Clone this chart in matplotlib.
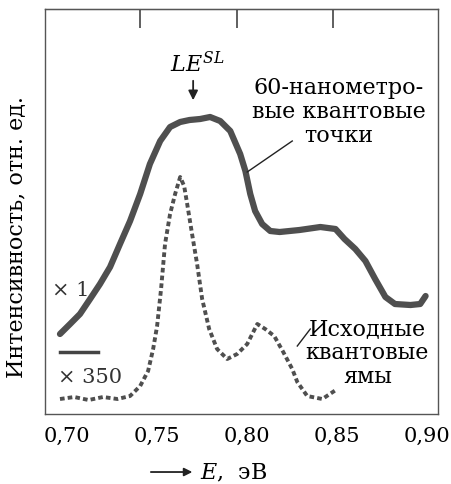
import matplotlib
matplotlib.use("Agg")
import matplotlib.pyplot as plt

plt.rcParams['font.family'] = ['DejaVu Serif']
plt.rcParams['mathtext.fontset'] = 'dejavuserif'

# 60-nm quantum dots (x1), energy in eV, intensity in arb. units
qd_E = [0.6961, 0.7017, 0.7072, 0.7128, 0.7183, 0.7239, 0.7294, 0.7350, 0.7406,
        0.7460, 0.7517, 0.7572, 0.7628, 0.7680, 0.7739, 0.7794, 0.7850, 0.7906,
        0.7961, 0.7990, 0.8017, 0.8044, 0.8083, 0.8128, 0.8180, 0.8290, 0.8406,
        0.8490, 0.8540, 0.8600, 0.8656, 0.8710, 0.8767, 0.8820, 0.8906, 0.8960,
        0.8990]
qd_I = [80, 90, 100, 115, 130, 147, 170, 193, 220,
        250, 273, 287, 292, 294, 295, 297, 293, 283,
        260, 243, 220, 203, 190, 183, 182, 184, 187,
        185, 175, 165, 153, 135, 117, 110, 109, 110,
        118]

# initial quantum wells (x350)
qw_E = [0.6961, 0.7040, 0.7120, 0.7200, 0.7280, 0.7350, 0.7406, 0.7450, 0.7478,
        0.7500, 0.7522, 0.7544, 0.7572, 0.7600, 0.7628, 0.7650, 0.7667, 0.7694,
        0.7722, 0.7750, 0.7789, 0.7833, 0.7889, 0.7944, 0.8000, 0.8056, 0.8100,
        0.8150, 0.8200, 0.8250, 0.8278, 0.8333, 0.8417, 0.8500]
qw_I = [15, 17, 14, 17, 15, 18, 28, 43, 65,
        88, 125, 170, 200, 220, 237, 228, 210, 180,
        150, 115, 85, 65, 55, 60, 70, 90, 85,
        78, 62, 45, 32, 18, 15, 25]

xticks = [0.70, 0.75, 0.80, 0.85, 0.90]
xticklabels = ['0,70', '0,75', '0,80', '0,85', '0,90']
top_ticks = [0.7406, 0.7944, 0.8478]

fig = plt.figure(figsize=(4.52, 4.85), dpi=100)
ax = fig.add_axes([0.0996, 0.1443, 0.8699, 0.8351])

ax.plot(qd_E, qd_I, color='#3c3c3c', lw=4.5, solid_capstyle='round', alpha=0.9)
ax.plot(qw_E, qw_I, color='#3c3c3c', lw=2.8, ls=(0, (1.2, 0.8)), alpha=0.9)

ax.set_xlim(0.6878, 0.906)
ax.set_ylim(0, 405)
ax.set_xticks(xticks)
ax.set_xticklabels(xticklabels, fontsize=15)
ax.tick_params(axis='x', bottom=False, pad=5)
ax.set_yticks([])
for s in ax.spines.values():
    s.set_color('#555555')
    s.set_linewidth(1.0)

sec = ax.secondary_xaxis('top')
sec.set_xticks(top_ticks)
sec.set_xticklabels([])
sec.tick_params(direction='in', length=14, width=1.2, color='#444444')

ax.text(0.7722, 350, r'$LE^{SL}$', fontsize=16, ha='center', va='center')
ax.annotate('', xy=(0.7700, 311), xytext=(0.7700, 336),
            arrowprops=dict(arrowstyle='-|>', color='#222222', lw=1.3, mutation_scale=14))

ax.text(0.8506, 303, '60-нанометро-\nвые квантовые\nточки', fontsize=16,
        ha='center', va='center', linespacing=1.1)
ax.plot([0.8250, 0.8000], [273, 242], color='#222222', lw=1)

ax.text(0.6917, 125, '× 1', fontsize=15, ha='left', va='center', color='#333333')
ax.plot([0.6961, 0.7172], [62, 62], color='#444444', lw=2.5)
ax.text(0.6950, 38, '× 350', fontsize=15, ha='left', va='center', color='#333333')

ax.text(0.8667, 62, 'Исходные\nквантовые\nямы', fontsize=16,
        ha='center', va='center', linespacing=1.1)
ax.plot([0.8350, 0.8278], [85, 68], color='#222222', lw=1)

fig.text(16 / 452, 1 - 237 / 485, 'Интенсивность, отн. ед.', fontsize=16,
         rotation=90, ha='center', va='center')

ax.annotate('', xy=(0.7711, -58), xytext=(0.7450, -58), annotation_clip=False,
            arrowprops=dict(arrowstyle='-|>', color='#222222', lw=1.3, mutation_scale=12))
ax.text(0.7739, -58, r'$E$,  эВ', fontsize=16, ha='left', va='center')

fig.savefig('out.png', dpi=100)
